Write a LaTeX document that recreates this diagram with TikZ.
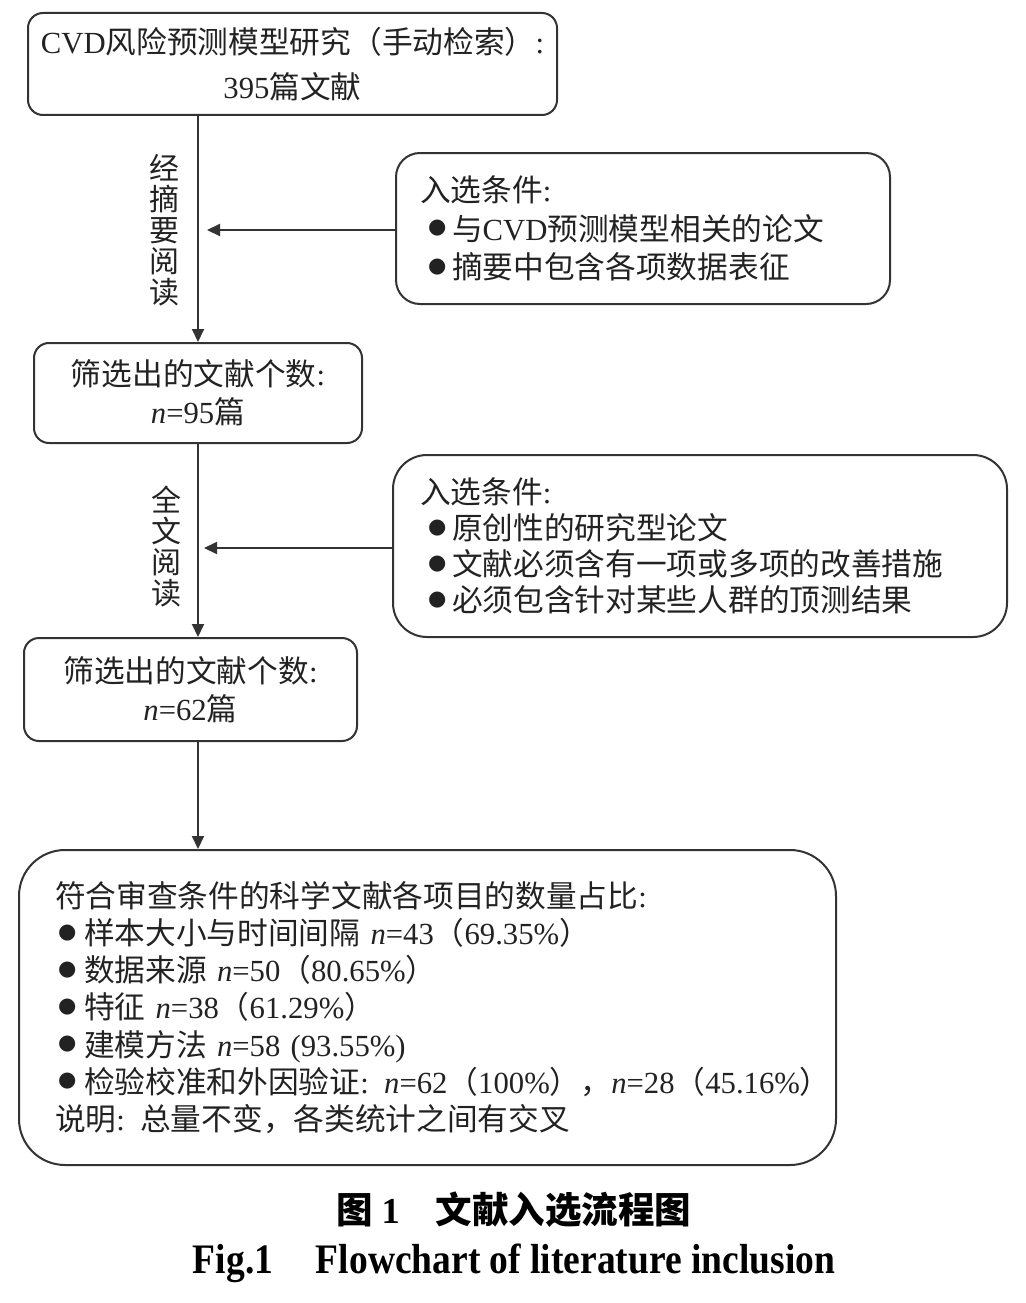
\documentclass[tikz,border=0pt]{standalone}
\usepackage{fontspec}
\setmainfont{Noto Sans CJK SC}
\newfontfamily\lat{Liberation Serif}
\newfontfamily\dej{DejaVu Sans}
\usetikzlibrary{arrows.meta,calc}
\definecolor{ln}{HTML}{333333}
\definecolor{tx}{HTML}{222222}
\newcommand\T[1]{{\lat #1}}
\newcommand\Nn{{\lat\itshape n}}
\newcommand\bul[1]{\makebox[#1][l]{\raisebox{6.5pt}{\fontsize{21}{21}\selectfont\dej ●}}}
\tikzset{
  x=1pt, y=-1pt,
  boxbase/.style={draw=ln, line width=2pt, text=tx, inner sep=0pt},
  cbox/.style={boxbase, rounded corners=15, align=center, font=\fontsize{30.7}{38}\selectfont},
  lbox/.style={boxbase, align=left},
  vlab/.style={text=tx, align=center, inner sep=0pt, font=\fontsize{30}{31}\selectfont},
  arr/.style={draw=ln, line width=2pt, -{Triangle[length=13pt,width=12pt]}},
}
\begin{document}
\begin{tikzpicture}
\useasboundingbox (0,0) rectangle (1025,1303);

% top box
\node[cbox, minimum width=529, minimum height=102, font=\fontsize{30.7}{45}\selectfont] (b1) at (292.5,64)
  {\T{CVD}风险预测模型研究（手动检索）\T{:}\\\T{395}篇文献};

% box 2
\node[cbox, minimum width=328, minimum height=100] (b2) at (198,393)
  {筛选出的文献个数\T{:}\\\Nn\T{=95}篇};

% box 3
\node[cbox, minimum width=333, minimum height=103] (b3) at (190.5,689.5)
  {筛选出的文献个数\T{:}\\\Nn\T{=62}篇};

% criteria A
\node[lbox, rounded corners=24, minimum width=494, minimum height=151,
      text width=446, inner xsep=24, font=\fontsize{30.7}{38.5}\selectfont] (ca) at (643,228.5)
  {入选条件\T{:}\\
   \hspace*{8pt}\bul{24pt}与\T{CVD}预测模型相关的论文\\
   \hspace*{8pt}\bul{24pt}摘要中包含各项数据表征};

% criteria B
\node[lbox, rounded corners=34, minimum width=614, minimum height=182,
      text width=560, inner xsep=27, font=\fontsize{30.7}{36}\selectfont] (cb) at (700,546)
  {入选条件\T{:}\\
   \hspace*{8pt}\bul{24pt}原创性的研究型论文\\
   \hspace*{8pt}\bul{24pt}文献必须含有一项或多项的改善措施\\
   \hspace*{8pt}\bul{24pt}必须包含针对某些人群的顶测结果};

% final box
\node[lbox, rounded corners=46, minimum width=817, minimum height=315,
      text width=745, inner xsep=36, font=\fontsize{30.7}{37.2}\selectfont] (b4) at (427.5,1007.5)
  {符合审查条件的科学文献各项目的数量占比\T{:}\\
   \hspace*{3pt}\bul{26pt}样本大小与时间间隔 \Nn\T{=43}（\T{69.35\%}）\\
   \hspace*{3pt}\bul{26pt}数据来源 \Nn\T{=50}（\T{80.65\%}）\\
   \hspace*{3pt}\bul{26pt}特征 \Nn\T{=38}（\T{61.29\%}）\\
   \hspace*{3pt}\bul{26pt}建模方法 \Nn\T{=58 (93.55\%)}\\
   \makebox[745pt][l]{\hspace*{3pt}\bul{26pt}检验校准和外因验证\T{:} \Nn\T{=62}（\T{100\%}），\Nn\T{=28}（\T{45.16\%}）}\\
   说明\T{:} 总量不变，各类统计之间有交叉};

% vertical labels
\node[vlab] (l1) at (164,230) {经\\摘\\要\\阅\\读};
\node[vlab] (l2) at (166,547) {全\\文\\阅\\读};

% connectors
\coordinate (ta) at (207,230);
\coordinate (tb) at (204,548);
\draw[arr] (b2.north |- b1.south) -- (b2.north);
\draw[arr] (b2.south) -- (b2.south |- b3.north);
\draw[arr] (b2.south |- b3.south) -- (b2.south |- b4.north);
\draw[arr] (ca.west |- ta) -- (ta);
\draw[arr] (cb.west |- tb) -- (tb);

% captions
\node[text=black, inner sep=0pt, font=\fontsize{36.5}{37}\selectfont\bfseries] (cap1) at (514,1210)
  {图 \T{1}\hspace{36pt}文献入选流程图};
\node[text=black, inner sep=0pt, font=\fontsize{42}{42}\selectfont\lat\bfseries] (cap2) at (514,1263)
  {\scalebox{0.893}[1]{Fig.1\hspace{48pt}Flowchart of literature inclusion}};
\end{tikzpicture}
\end{document}
